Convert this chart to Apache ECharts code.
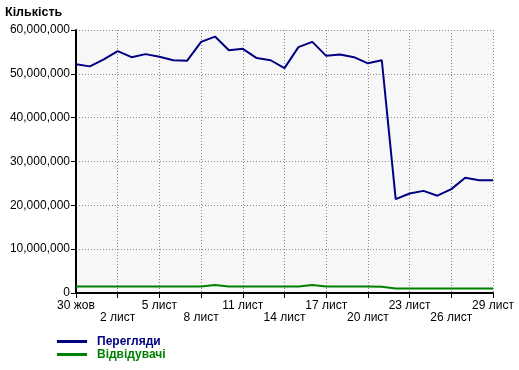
<!DOCTYPE html>
<html>
<head>
<meta charset="utf-8">
<script src="https://cdn.jsdelivr.net/npm/echarts@6/dist/echarts.min.js"></script>
<style>
html,body{margin:0;padding:0;background:#fff;}
#c{width:519px;height:370px;}
</style>
</head>
<body>
<div id="c"></div>
<script>
var categories = ['30 жов','31 жов','1 лист','2 лист','3 лист','4 лист','5 лист','6 лист','7 лист','8 лист',
  '9 лист','10 лист','11 лист','12 лист','13 лист','14 лист','15 лист','16 лист','17 лист','18 лист',
  '19 лист','20 лист','21 лист','22 лист','23 лист','24 лист','25 лист','26 лист','27 лист','28 лист','29 лист'];
var views = [52.2,51.7,53.3,55.2,53.8,54.5,53.9,53.1,53.0,57.3,
  58.5,55.4,55.7,53.6,53.1,51.3,56.1,57.3,54.1,54.4,
  53.8,52.4,53.1,21.4,22.7,23.3,22.2,23.7,26.3,25.7,25.7];
var visitors = [1.5,1.5,1.5,1.5,1.5,1.5,1.5,1.5,1.5,1.5,
  1.8,1.5,1.5,1.5,1.5,1.5,1.5,1.8,1.5,1.5,
  1.5,1.5,1.4,1.0,1.0,1.0,1.0,1.0,1.0,1.0,1.0];
var yTicks = [0,10,20,30,40,50,60];

var M = 1000000;
var font = 'Liberation Sans, Arial, sans-serif';
var chart = echarts.init(document.getElementById('c'));
function fmt(v){ return Math.round(v).toString().replace(/\B(?=(\d{3})+(?!\d))/g, ','); }
var dotted = {color:'#8a8a8a', width:1, type:[1,2]};
chart.setOption({
  animation:false,
  backgroundColor:'#ffffff',
  textStyle:{fontFamily:font},
  title:{text:'Кількість', left:5, top:6, padding:0,
    textStyle:{fontFamily:font, fontSize:12.5, fontWeight:'bold', color:'#000'}},
  grid:{left:76, right:26, top:30, bottom:77, show:true, backgroundColor:'#f7f7f7', borderWidth:0, containLabel:false},
  legend:{orient:'vertical', left:57, top:335, padding:0, itemGap:0, icon:'rect', itemWidth:30, itemHeight:3,
    textStyle:{fontFamily:font, fontSize:12, fontWeight:'bold', lineHeight:13, padding:[0,0,0,5]},
    data:[{name:'Перегляди', textStyle:{color:'#000080'}},{name:'Відвідувачі', textStyle:{color:'#008000'}}]},
  xAxis:{type:'category', boundaryGap:false, data:categories,
    axisLine:{lineStyle:{color:'#000', width:2}},
    axisTick:{show:true, interval:2, length:5, lineStyle:{color:'#000', width:1}},
    axisLabel:{interval:2, color:'#000', fontFamily:font, fontSize:12, margin:7, lineHeight:12,
      formatter:function(v, i){ return (i/3) % 2 === 0 ? v : '\n' + v; }},
    splitLine:{show:true, interval:2, lineStyle:dotted}},
  yAxis:{type:'value', min:yTicks[0]*M, max:yTicks[yTicks.length-1]*M, interval:10*M,
    axisLine:{show:true, lineStyle:{color:'#000', width:2}},
    axisTick:{show:true, length:5, lineStyle:{color:'#000', width:1}},
    axisLabel:{color:'#000', fontFamily:font, fontSize:12, margin:6, formatter:fmt},
    splitLine:{show:true, lineStyle:dotted}},
  series:[
    {name:'Перегляди', type:'line', data:views.map(function(v){return v*M;}), showSymbol:false,
      lineStyle:{color:'#000080', width:2}, itemStyle:{color:'#000080'}},
    {name:'Відвідувачі', type:'line', data:visitors.map(function(v){return v*M;}), showSymbol:false,
      lineStyle:{color:'#008000', width:2}, itemStyle:{color:'#008000'}}
  ]
});
</script>
</body>
</html>
